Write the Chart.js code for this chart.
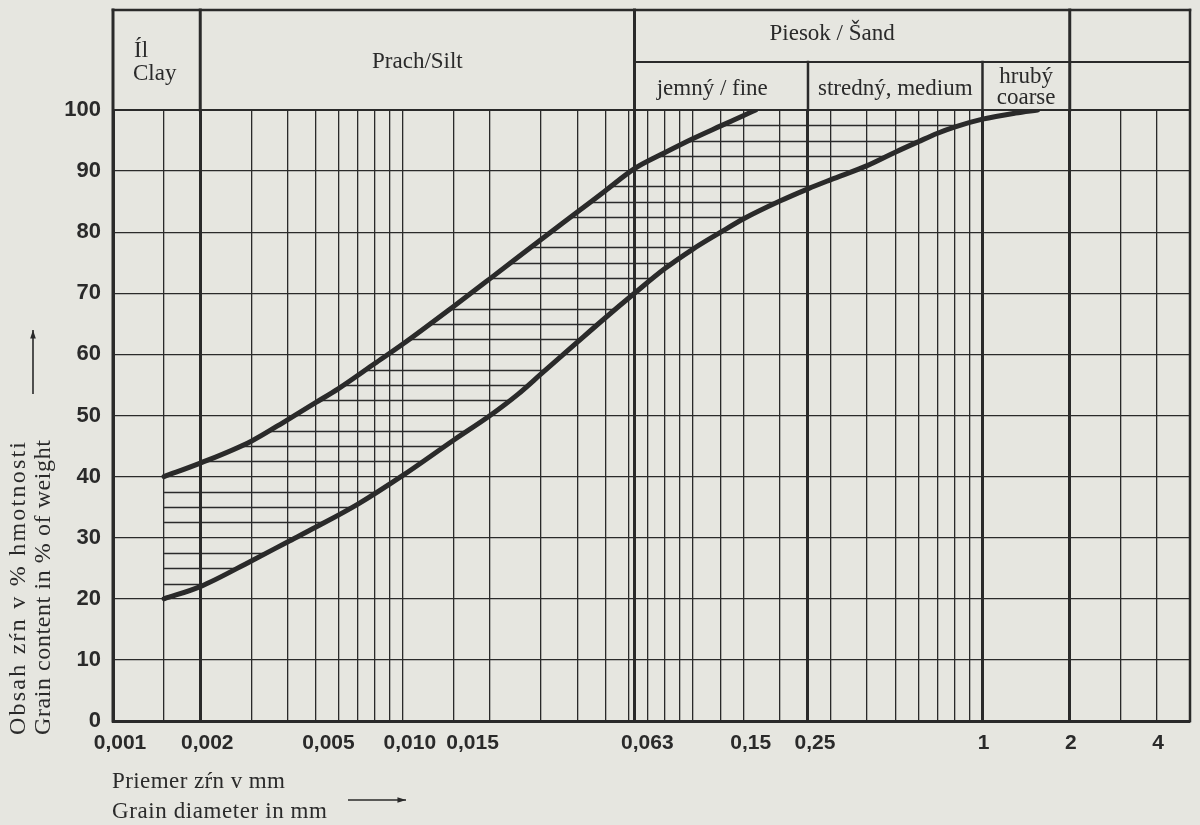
<!DOCTYPE html>
<html>
<head>
<meta charset="utf-8">
<script src="https://cdn.jsdelivr.net/npm/chart.js@4/dist/chart.umd.min.js"></script>
<style>
  html, body { margin: 0; padding: 0; background: #e6e6e0; }
  #wrap { width: 1200px; height: 825px; position: relative; }
</style>
</head>
<body>
<div id="wrap"><canvas id="grading"></canvas></div>
<script>
// Upper limit curve of the grading band: grain diameter (mm) / content (% of weight)
const diameterUpper = [0.0015, 0.002, 0.003, 0.004, 0.005, 0.006, 0.008, 0.01, 0.015, 0.02, 0.03, 0.04, 0.05, 0.063, 0.08, 0.1, 0.125, 0.15, 0.165];
const contentUpper  = [40, 42.2, 45.8, 49.3, 52.1, 54.4, 58.5, 61.7, 67.9, 72.4, 78.8, 83.3, 86.8, 90.4, 93, 95.3, 97.4, 99.1, 100];

// Lower limit curve of the grading band
const diameterLower = [0.0015, 0.002, 0.003, 0.004, 0.005, 0.007, 0.01, 0.015, 0.02, 0.025, 0.03, 0.04, 0.05, 0.063, 0.08, 0.1, 0.125, 0.15, 0.2, 0.25, 0.3, 0.4, 0.5, 0.6, 0.7, 0.8, 1, 1.3, 1.55];
const contentLower  = [20, 22, 26.2, 29.3, 31.7, 35.5, 40.2, 46, 50, 53.5, 56.8, 62, 66, 70, 74, 77.2, 80, 82.2, 85.1, 87.1, 88.6, 90.9, 93.1, 94.8, 96.2, 97.2, 98.5, 99.5, 100];

// Vertical rulings of the log paper (mm)
const gridDiameters = [0.001, 0.0015, 0.002, 0.003, 0.004, 0.005, 0.006, 0.007, 0.008, 0.009, 0.01,
  0.015, 0.02, 0.03, 0.04, 0.05, 0.06, 0.063, 0.07, 0.08, 0.09, 0.1, 0.125, 0.15, 0.2, 0.25,
  0.3, 0.4, 0.5, 0.6, 0.7, 0.8, 0.9, 1, 2, 3, 4];
// Labelled diameters on the x axis
const tickValues = [0.001, 0.002, 0.005, 0.01, 0.015, 0.063, 0.15, 0.25, 1, 2, 4];
const tickLabels = ['0,001', '0,002', '0,005', '0,010', '0,015', '0,063', '0,15', '0,25', '1', '2', '4'];
// Fraction boundaries (clay | silt | fine | medium | coarse sand | gravel)
const boundaryDiameters = [0.002, 0.063, 0.25, 1, 2];

const INK = '#2a2a2a';
const HATCH_STEP = 2.5;   // % spacing of the hatching inside the band
// Label placement beside its ruling, in figure-space widths (+ right, - left)
const labelNudge = { '0,005': 1, '0,015': 2, '0,063': 1, '1': -1, '2': -1, '4': -1 };
const FIGURE_SPACE = '\u2007';

const sameValue = (a, b) => Math.abs(Math.log10(a) - Math.log10(b)) < 1e-6;
function labelFor(v) {
  const i = tickValues.findIndex(t => sameValue(t, v));
  if (i < 0) return '';
  const text = tickLabels[i];
  const n = labelNudge[text] || 0;
  return n > 0 ? FIGURE_SPACE.repeat(n) + text : text + FIGURE_SPACE.repeat(-n);
}
const isBoundary = v => boundaryDiameters.some(t => sameValue(t, v));

// Draws text so that it spans a given length, by spreading the letters
function spreadText(ctx, text, x, y, length) {
  ctx.letterSpacing = '0px';
  const w = ctx.measureText(text).width;
  const gap = Math.max(0, (length - w) / Math.max(1, text.length - 1));
  ctx.letterSpacing = gap.toFixed(2) + 'px';
  ctx.fillText(text, x, y);
  ctx.letterSpacing = '0px';
}

function arrow(ctx, x1, y1, x2, y2) {
  const a = Math.atan2(y2 - y1, x2 - x1);
  ctx.beginPath();
  ctx.moveTo(x1, y1); ctx.lineTo(x2, y2); ctx.stroke();
  ctx.beginPath();
  ctx.moveTo(x2, y2);
  ctx.lineTo(x2 - 9 * Math.cos(a - 0.32), y2 - 9 * Math.sin(a - 0.32));
  ctx.lineTo(x2 - 9 * Math.cos(a + 0.32), y2 - 9 * Math.sin(a + 0.32));
  ctx.closePath(); ctx.fill();
}

// Horizontal hatching between the two limit curves
function pathSegment(ctx, p, q, reverse) {
  if (!reverse && p.cp2x !== undefined && q.cp1x !== undefined) {
    ctx.bezierCurveTo(p.cp2x, p.cp2y, q.cp1x, q.cp1y, q.x, q.y);
  } else if (reverse && p.cp1x !== undefined && q.cp2x !== undefined) {
    ctx.bezierCurveTo(p.cp1x, p.cp1y, q.cp2x, q.cp2y, q.x, q.y);
  } else {
    ctx.lineTo(q.x, q.y);
  }
}
const hatchPlugin = {
  id: 'bandHatch',
  beforeDatasetsDraw(chart) {
    const upper = chart.getDatasetMeta(0), lower = chart.getDatasetMeta(1);
    upper.dataset.updateControlPoints(chart.chartArea, 'x');
    lower.dataset.updateControlPoints(chart.chartArea, 'x');
    const U = upper.data, L = lower.data;
    const { ctx, chartArea: a, scales: { y } } = chart;
    ctx.save();
    ctx.beginPath();
    ctx.moveTo(U[0].x, U[0].y);
    for (let i = 1; i < U.length; i++) pathSegment(ctx, U[i - 1], U[i], false);
    ctx.lineTo(L[L.length - 1].x, L[L.length - 1].y);
    for (let i = L.length - 1; i > 0; i--) pathSegment(ctx, L[i], L[i - 1], true);
    ctx.closePath();
    ctx.clip();
    ctx.strokeStyle = INK;
    ctx.lineWidth = 1.3;
    for (let v = HATCH_STEP; v < 100; v += HATCH_STEP) {
      if (v % 10 === 0) continue;
      const py = Math.round(y.getPixelForValue(v)) + 0.5;
      ctx.beginPath(); ctx.moveTo(a.left, py); ctx.lineTo(a.right, py); ctx.stroke();
    }
    ctx.restore();
  }
};

// Fraction header above the plot and the frame of the sheet
const headerPlugin = {
  id: 'fractionHeader',
  afterDraw(chart) {
    const { ctx, chartArea: a, scales: { x } } = chart;
    const px = v => x.getPixelForValue(v);
    const top = 10, mid = 62, bot = a.top;
    ctx.save();
    ctx.strokeStyle = INK;
    ctx.lineCap = 'square';
    const line = (x1, y1, x2, y2, w) => {
      ctx.lineWidth = w; ctx.beginPath(); ctx.moveTo(x1, y1); ctx.lineTo(x2, y2); ctx.stroke();
    };
    line(a.left, top, a.right, top, 2.5);
    line(a.left, top, a.left, a.bottom, 3);
    line(a.right, top, a.right, a.bottom, 2.5);
    line(a.left, bot, a.right, bot, 2);
    line(px(0.063), mid, a.right, mid, 2);
    line(px(0.002), top, px(0.002), bot, 3);
    line(px(0.063), top, px(0.063), bot, 3);
    line(px(2), top, px(2), bot, 3);
    line(px(0.25), mid, px(0.25), bot, 2.5);
    line(px(1), mid, px(1), bot, 2.5);

    ctx.fillStyle = INK;
    ctx.font = '23px "Liberation Serif"';
    ctx.textBaseline = 'alphabetic';
    ctx.textAlign = 'left';
    ctx.fillText('Íl', a.left + 21, 57);
    ctx.fillText('Clay', a.left + 20, 80);
    ctx.textAlign = 'center';
    ctx.fillText('Prach/Silt', (px(0.002) + px(0.063)) / 2, 68);
    ctx.fillText('Piesok / Šand', (px(0.063) + px(2)) / 2 - 20, 40);
    ctx.fillText('jemný / fine', (px(0.063) + px(0.25)) / 2 - 9, 95);
    ctx.fillText('stredný, medium', (px(0.25) + px(1)) / 2, 95);
    ctx.fillText('hrubý', (px(1) + px(2)) / 2, 83);
    ctx.fillText('coarse', (px(1) + px(2)) / 2, 104);
    ctx.restore();
  }
};

// Axis titles with direction arrows
const titlePlugin = {
  id: 'axisTitles',
  afterDraw(chart) {
    const { ctx } = chart;
    ctx.save();
    ctx.fillStyle = INK;
    ctx.strokeStyle = INK;
    ctx.lineWidth = 1.6;
    ctx.font = '24px "Liberation Serif"';
    ctx.textAlign = 'left';
    ctx.textBaseline = 'alphabetic';
    ctx.save();
    ctx.translate(25, 735);
    ctx.rotate(-Math.PI / 2);
    spreadText(ctx, 'Obsah zŕn v % hmotnosti', 0, 0, 293);
    ctx.restore();
    ctx.save();
    ctx.translate(50, 735);
    ctx.rotate(-Math.PI / 2);
    spreadText(ctx, 'Grain content in % of weight', 0, 0, 295);
    ctx.restore();
    arrow(ctx, 33, 394, 33, 330);

    ctx.font = '23px "Liberation Serif"';
    spreadText(ctx, 'Priemer zŕn v mm', 112, 788, 173);
    spreadText(ctx, 'Grain diameter in mm', 112, 818, 215);
    arrow(ctx, 348, 800, 406, 800);
    ctx.restore();
  }
};

const toPoints = (xs, ys) => xs.map((d, i) => ({ x: d, y: ys[i] }));

new Chart(document.getElementById('grading'), {
  type: 'line',
  data: {
    datasets: [
      { label: 'upper', data: toPoints(diameterUpper, contentUpper) },
      { label: 'lower', data: toPoints(diameterLower, contentLower) }
    ]
  },
  options: {
    responsive: true,
    maintainAspectRatio: false,
    animation: false,
    events: [],
    layout: { padding: { top: 110, right: 10, left: 0, bottom: 0 } },
    elements: {
      line: { borderColor: INK, borderWidth: 5, fill: false, cubicInterpolationMode: 'monotone', borderCapStyle: 'round' },
      point: { radius: 0 }
    },
    plugins: { legend: { display: false }, tooltip: { enabled: false } },
    scales: {
      x: {
        type: 'logarithmic',
        min: 0.001,
        max: 5.2,
        afterBuildTicks: s => { s.ticks = gridDiameters.map(v => ({ value: v })); },
        afterFit: s => { s.height = 104; },
        border: { display: true, width: 3, color: INK },
        grid: {
          drawTicks: false,
          color: INK,
          lineWidth: c => (c.tick && isBoundary(c.tick.value)) ? 3 : 1.3
        },
        ticks: {
          autoSkip: false,
          maxRotation: 0,
          padding: 10,
          labelOffset: 7,
          color: INK,
          font: { family: '"Liberation Sans"', size: 21, weight: 'bold' },
          callback: v => labelFor(v)
        }
      },
      y: {
        min: 0,
        max: 100,
        afterFit: s => { s.width = 113; },
        border: { display: true, width: 3, color: INK },
        grid: {
          drawTicks: false,
          color: INK,
          lineWidth: c => (c.tick && c.tick.value === 100) ? 2 : 1.3
        },
        ticks: {
          stepSize: 10,
          padding: 12,
          color: INK,
          font: { family: '"Liberation Sans"', size: 22, weight: 'bold' }
        }
      }
    }
  },
  plugins: [hatchPlugin, headerPlugin, titlePlugin]
});
</script>
</body>
</html>
